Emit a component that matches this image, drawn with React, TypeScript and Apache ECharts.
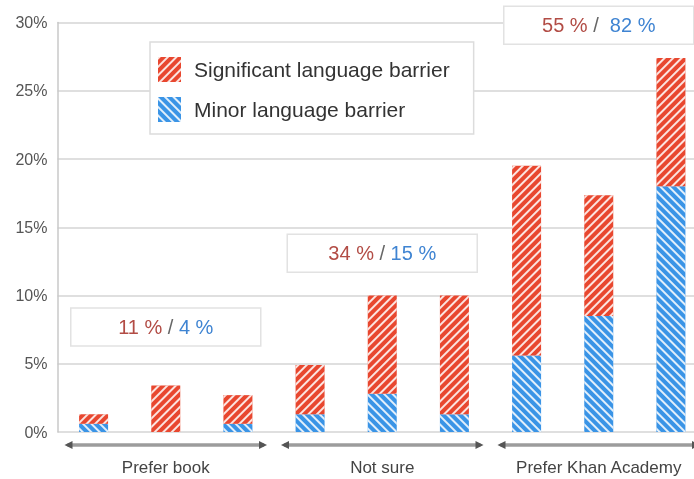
import React, { useEffect, useRef } from "react";
import * as echarts from "echarts";

const categories = [
  "Prefer book A", "Prefer book B", "Prefer book C",
  "Not sure A", "Not sure B", "Not sure C",
  "Prefer Khan Academy A", "Prefer Khan Academy B", "Prefer Khan Academy C",
];
const groupLabels = ["Prefer book", "Not sure", "Prefer Khan Academy"];
const minorBarrier = [0.6, 0, 0.6, 1.3, 2.8, 1.3, 5.6, 8.5, 18.0];
const significantBarrier = [0.7, 3.4, 2.1, 3.6, 7.2, 8.7, 13.9, 8.85, 9.4];
const yTicks = [0, 5, 10, 15, 20, 25, 30];
const groupSignificantShare = ["11 %", "34 %", "55 %"];
const groupMinorShare = ["4 %", "15 %", "82 %"];
const boxAnchorValue = [7.7, 13.1, 29.8];

const FONT = "'Liberation Sans', Arial, sans-serif";
const RED = "#e8472f";
const BLUE = "#3a94e6";

export default function App() {
  const ref = useRef<HTMLDivElement>(null);
  useEffect(() => {
    document.body.style.margin = "0";
    document.body.style.overflow = "hidden";
    const chart = echarts.init(ref.current!, null, { renderer: "svg" });
    const decalRed = {
      symbol: "rect",
      symbolSize: 1,
      symbolKeepAspect: false,
      dashArrayX: [1, 0],
      dashArrayY: [2, 3.4],
      rotation: -Math.PI / 4,
      color: "rgba(255,255,255,0.85)",
    };
    const decalBlue = { ...decalRed, rotation: Math.PI / 4 };
    chart.setOption({
      animation: false,
      textStyle: { fontFamily: FONT },
      grid: { left: 57.5, right: 0, top: 22.5, bottom: 47, containLabel: false },
      legend: {
        orient: "vertical",
        left: 150,
        top: 42,
        data: ["Significant language barrier", "Minor language barrier"],
        backgroundColor: "#fff",
        borderColor: "#dcdcdc",
        borderWidth: 1.5,
        padding: [15, 24, 12, 8],
        itemWidth: 23,
        itemHeight: 25,
        itemGap: 15,
        icon: "rect",
        textStyle: { fontSize: 21, color: "#333", fontFamily: FONT, padding: [0, 0, 0, 8] },
      },
      xAxis: {
        type: "category",
        data: categories,
        axisLine: { show: false },
        axisTick: { show: false },
        axisLabel: {
          interval: 0,
          margin: 27,
          fontSize: 17,
          color: "#444",
          fontFamily: FONT,
          formatter: (_v: string, i: number) => (i % 3 === 1 ? groupLabels[Math.floor(i / 3)] : ""),
        },
      },
      yAxis: {
        type: "value",
        min: yTicks[0],
        max: yTicks[yTicks.length - 1],
        interval: 5,
        axisLine: { show: true, lineStyle: { color: "#c8c8c8", width: 1.5 } },
        axisTick: { show: false },
        axisLabel: { formatter: "{value}%", fontSize: 16, color: "#555", margin: 10, fontFamily: FONT },
        splitLine: { lineStyle: { color: "#d4d4d4", width: 1.5 } },
      },
      series: [
        {
          name: "Minor language barrier",
          type: "bar",
          stack: "total",
          barWidth: 29,
          data: minorBarrier,
          itemStyle: { color: BLUE, decal: decalBlue },
        },
        {
          name: "Significant language barrier",
          type: "bar",
          stack: "total",
          barWidth: 29,
          data: significantBarrier,
          itemStyle: { color: RED, decal: decalRed },
        },
      ],
    });

    const px = (i: number, v: number) => chart.convertToPixel({ gridIndex: 0 }, [i, v]) as number[];
    const bw = px(1, 0)[0] - px(0, 0)[0];
    const baseY = px(0, 0)[1];
    const graphics: any[] = [];
    groupLabels.forEach((_g, gi) => {
      const left = px(gi * 3, 0)[0] - bw / 2 + 7;
      const right = px(gi * 3 + 2, 0)[0] + bw / 2 - 7;
      const y = baseY + 13;
      graphics.push({
        type: "line",
        z: 10,
        shape: { x1: left + 3, y1: y, x2: right - 3, y2: y },
        style: { stroke: "#9c9c9c", lineWidth: 3.5 },
      });
      graphics.push({
        type: "polygon",
        z: 11,
        shape: { points: [[left, y], [left + 8, y - 4], [left + 8, y + 4]] },
        style: { fill: "#555" },
      });
      graphics.push({
        type: "polygon",
        z: 11,
        shape: { points: [[right, y], [right - 8, y - 4], [right - 8, y + 4]] },
        style: { fill: "#555" },
      });
      const c = px(gi * 3 + 1, boxAnchorValue[gi]);
      graphics.push({
        type: "rect",
        z: 10,
        shape: { x: c[0] - 95, y: c[1] - 19, width: 190, height: 38 },
        style: { fill: "#fff", stroke: "#e2e2e2", lineWidth: 1.5 },
      });
      graphics.push({
        type: "text",
        z: 11,
        x: c[0],
        y: c[1],
        style: {
          text: `{r|${groupSignificantShare[gi]}}{s| / ${gi === 2 ? " " : ""}}{b|${groupMinorShare[gi]}}`,
          align: "center",
          verticalAlign: "middle",
          fontFamily: FONT,
          fontSize: 20,
          rich: {
            r: { fill: "#b24c45", fontSize: 20, fontFamily: FONT },
            s: { fill: "#666", fontSize: 20, fontFamily: FONT },
            b: { fill: "#3f84d2", fontSize: 20, fontFamily: FONT },
          },
        },
      });
    });
    chart.setOption({ graphic: graphics });
    return () => chart.dispose();
  }, []);
  return (
    <div style={{ position: "fixed", left: 0, top: 0, width: 694, height: 479, overflow: "hidden" }}>
      <div ref={ref} style={{ width: 707, height: 479 }} />
    </div>
  );
}
